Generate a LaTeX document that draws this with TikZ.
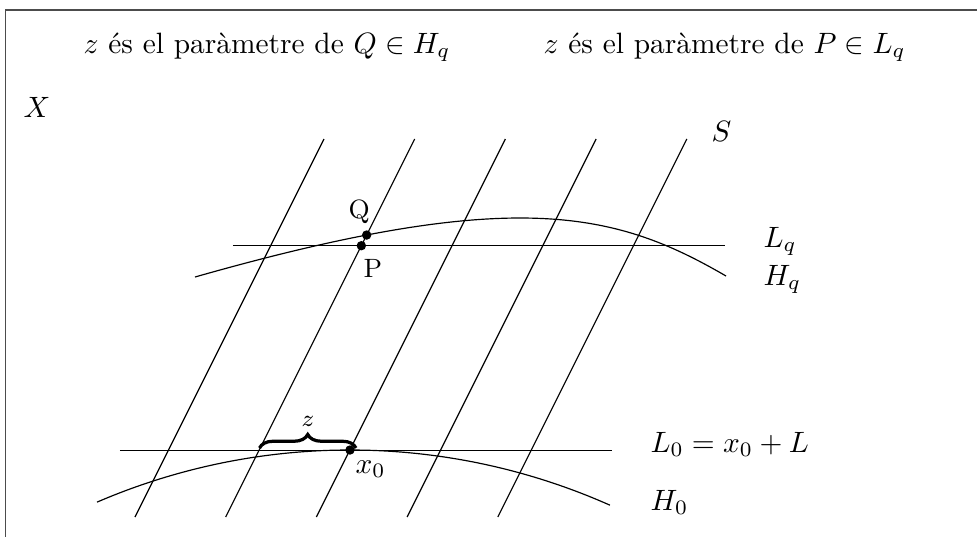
\documentclass[tikz,border=0pt]{standalone}
\usepackage{fontspec}
\usetikzlibrary{decorations.pathreplacing,intersections}
\begin{document}
\begin{tikzpicture}[x=0.34pt,y=-0.34pt,line width=0.4pt,
  lbl/.style={inner sep=0pt,anchor=base west},
  dot/.style={circle,fill,inner sep=0pt,minimum size=3.2pt},
  frame/.style={line width=0.5pt,black!70}]
\useasboundingbox (0,0) rectangle (977,536);
\clip (0,0) rectangle (977,536);
\draw[frame] (5.5,10) rectangle (1100,700);

% titles
\node[lbl] (t1) at (83,53) {$z$ és el paràmetre de $Q\in H_q$};
\node[lbl] (t2) at (543,53) {$z$ és el paràmetre de $P\in L_q$};
\node[lbl] (X) at (23,117) {$X$};
\node[lbl] (S) at (711,141) {$S$};

% slanted lines (family S)
\foreach \i in {1,...,5}{
  \coordinate (b\i) at ({135+90.7*(\i-1)},517);
  \coordinate (u\i) at ({324+90.7*(\i-1)},139);
  \draw[name path=s\i] (b\i) -- (u\i);
}

% L_q and H_q
\coordinate (lqa) at (233,245.7);
\coordinate (lqb) at (725,245.7);
\draw[name path=lq] (lqa) -- (lqb);
\coordinate (hqa) at (195,277);
\coordinate (hqb) at (726,276);
\draw[name path=hq] (hqa) .. controls (515,186) and (616,212) .. (hqb);
\node[lbl] (Lq) at (763,247) {$L_q$};
\node[lbl] (Hq) at (763,285) {$H_q$};

\path[name intersections={of=s2 and lq,by=pP}];
\path[name intersections={of=s2 and hq,by=pQ}];
\node[dot] (P) at (pP) {};
\node[dot] (Q) at (pQ) {};
\node[lbl,font=\small] (Ql) at (348,218) {Q};
\node[lbl,font=\small] (Pl) at (363,277) {P};

% L_0 and H_0
\coordinate (l0a) at (120,450.3);
\coordinate (l0b) at (612,450.3);
\draw (l0a) -- (l0b);
\draw plot[domain=97:610,samples=90] (\x,{1090-100*sqrt(40.96-((\x-350)/100)^2)});
\node[dot] (x0) at (350,450) {};
\node[lbl] (x0l) at (355,473) {$x_0$};
\node[lbl] (L0) at (650,452) {$L_0=x_0+L$};
\node[lbl] (H0) at (650,510) {$H_0$};

% brace
\coordinate (bra) at (259.5,448);
\coordinate (brb) at (356,448);
\draw[decorate,decoration={brace,amplitude=4.6pt},line width=1.1pt] (bra) -- (brb);
\node[font=\footnotesize] (zl) at (308,421) {$z$};
\end{tikzpicture}
\end{document}
